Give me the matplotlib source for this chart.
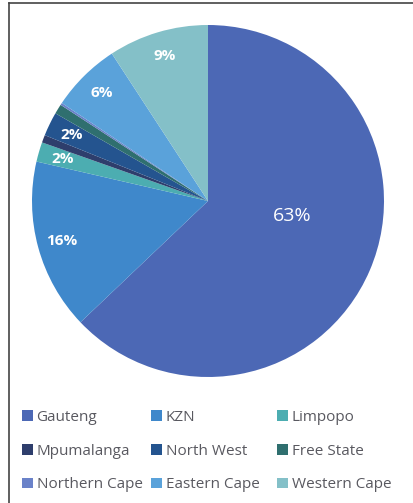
import matplotlib.pyplot as plt
from matplotlib.patches import Patch
from matplotlib.lines import Line2D

provinces = ['Gauteng', 'KZN', 'Limpopo', 'Mpumalanga', 'North West',
             'Free State', 'Northern Cape', 'Eastern Cape', 'Western Cape']
share = [62.9, 15.7, 1.8, 0.7, 2.2, 0.9, 0.2, 6.4, 9.2]
colours = ['#4c68b5', '#3f88cb', '#4cadb1', '#2e3e6c', '#24548f',
           '#2f6f6f', '#6a82c9', '#5aa2da', '#84c0c8']

plt.rcParams['font.family'] = ['Open Sans', 'DejaVu Sans']

fig = plt.figure(figsize=(4.14, 5.03), dpi=100)
fig.patch.set_facecolor('white')

# frame lines along the left and top
fig.add_artist(Line2D([9 / 414, 9 / 414], [0, 1 - 3 / 503], color='#444444', lw=1.2))
fig.add_artist(Line2D([9 / 414, 1], [1 - 3 / 503, 1 - 3 / 503], color='#444444', lw=1.2))

ax = fig.add_axes([32 / 414, 1 - 377 / 503, 352 / 414, 352 / 503])


def pct(v):
    return '%d%%' % round(v) if v >= 1.5 else ''


wedges, texts, autotexts = ax.pie(share, colors=colours, startangle=90, counterclock=False,
                                  autopct=pct, pctdistance=0.86,
                                  wedgeprops=dict(linewidth=0))
for t in autotexts:
    t.set_color('white')
    t.set_fontsize(11)
    t.set_fontweight('bold')
autotexts[0].set_position((0.48, -0.085))
autotexts[0].set_fontsize(14)
autotexts[0].set_fontweight('normal')
ax.set_xlim(-1, 1)
ax.set_ylim(-1, 1)
ax.set_aspect('equal')
ax.axis('off')

# legend laid out in three equal columns, filled row by row
col_x = [22 / 414, 151 / 414, 277 / 414]
for c in range(3):
    idx = [c, c + 3, c + 6]
    handles = [Patch(facecolor=colours[i], edgecolor='none') for i in idx]
    leg = fig.legend(handles, [provinces[i] for i in idx], loc='upper left',
                     bbox_to_anchor=(col_x[c], 1 - 410 / 503), frameon=False,
                     fontsize=11, handlelength=0.7, handleheight=0.7,
                     handletextpad=0.25, labelspacing=1.22, borderpad=0,
                     borderaxespad=0)
    for t in leg.get_texts():
        t.set_color('#595960')

fig.savefig('out.png', dpi=100)
